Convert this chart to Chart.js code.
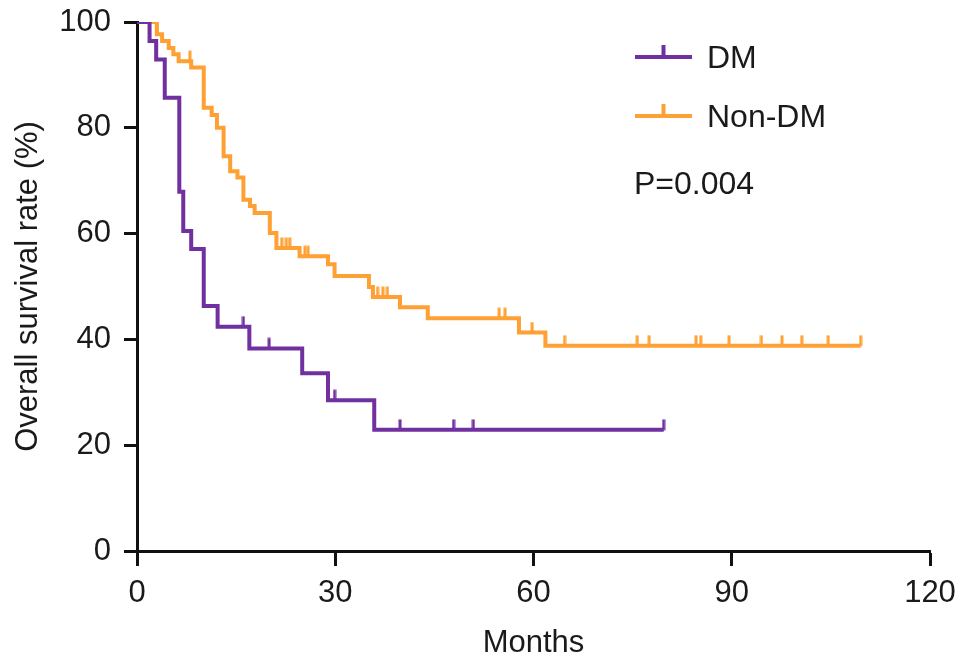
<!DOCTYPE html>
<html>
<head>
<meta charset="utf-8">
<title>Overall survival</title>
<script src="https://cdn.jsdelivr.net/npm/chart.js@4/dist/chart.umd.min.js"></script>
<style>
  html, body { margin: 0; padding: 0; background: #fff; }
  #wrap { width: 969px; height: 669px; }
</style>
</head>
<body>
<div id="wrap"><canvas id="kmChart" width="969" height="669"></canvas></div>
<script>
// Kaplan-Meier steps (months, % surviving)
const dmTimes = [0, 1.9, 2.9, 4.2, 6.4, 7.0, 8.2, 10.1, 12.2, 17.0, 25.0, 28.9, 35.9, 79.7];
const dmSurv  = [100, 96.4, 92.9, 85.7, 67.9, 60.5, 57.1, 46.3, 42.4, 38.3, 33.6, 28.5, 22.9, 22.9];
const dmCensored = [16.1, 20.0, 29.9, 39.8, 47.9, 50.9, 79.7];

const nonDmTimes = [0, 3.0, 3.8, 4.8, 5.5, 6.3, 8.2, 10.1, 11.3, 12.1, 13.1, 14.1, 15.2, 16.1, 17.1, 17.8,
                    20.1, 21.1, 24.6, 28.9, 29.9, 35.1, 35.7, 39.8, 44.0, 57.8, 61.8, 109.5];
const nonDmSurv  = [100, 97.7, 96.4, 95.1, 93.9, 92.6, 91.4, 83.8, 82.4, 80.0, 74.6, 71.8, 70.6, 66.4, 65.2, 63.9,
                    60.1, 57.3, 55.7, 54.2, 52.0, 49.9, 48.0, 46.1, 44.0, 41.3, 38.8, 38.8];
const nonDmCensored = [3.0, 8.0, 21.9, 22.6, 23.1, 25.4, 25.9, 36.4, 37.2, 37.9, 54.8, 55.7, 59.8,
                       64.7, 75.7, 77.5, 84.6, 85.3, 89.6, 94.5, 97.6, 100.6, 104.6, 109.5];

const xTicks = [0, 30, 60, 90, 120];
const yTicks = [0, 20, 40, 60, 80, 100];

const PURPLE = '#7030a0';
const ORANGE = '#ffa035';

// survival level at time t (step function)
function survAt(times, surv, t) {
  let s = surv[0];
  for (let i = 0; i < times.length; i++) {
    if (times[i] <= t) s = surv[i];
  }
  return s;
}

// small vertical mark sitting on top of the curve
function censorMark(color) {
  const c = document.createElement('canvas');
  c.width = 4; c.height = 22;
  const g = c.getContext('2d');
  g.strokeStyle = color;
  g.lineWidth = 3;
  g.beginPath();
  g.moveTo(2, 0.5);
  g.lineTo(2, 11.5);
  g.stroke();
  return c;
}

const stepData = (times, surv) => times.map((t, i) => ({x: t, y: surv[i]}));
const censorData = (cens, times, surv) => cens.map(t => ({x: t, y: survAt(times, surv, t)}));

// legend + p value, drawn at the top right like the original
const keyPlugin = {
  id: 'kmKey',
  afterDraw(chart) {
    const ctx = chart.ctx;
    const rows = [
      { label: 'DM', color: PURPLE, y: 57 },
      { label: 'Non-DM', color: ORANGE, y: 116 }
    ];
    ctx.save();
    rows.forEach(r => {
      ctx.strokeStyle = r.color;
      ctx.lineWidth = 4;
      ctx.beginPath();
      ctx.moveTo(635, r.y);
      ctx.lineTo(692, r.y);
      ctx.moveTo(663.5, r.y);
      ctx.lineTo(663.5, r.y - 12);
      ctx.stroke();
      ctx.fillStyle = '#1a1a1a';
      ctx.font = '32px "Liberation Sans", Arial, sans-serif';
      ctx.textBaseline = 'middle';
      ctx.textAlign = 'left';
      ctx.fillText(r.label, 707, r.y + 2);
    });
    ctx.fillText('P=0.004', 634, 185);
    ctx.restore();
  }
};

const fontFam = '"Liberation Sans", Arial, sans-serif';

new Chart(document.getElementById('kmChart'), {
  type: 'line',
  data: {
    datasets: [
      { label: 'DM', data: stepData(dmTimes, dmSurv), stepped: true,
        borderColor: PURPLE, borderWidth: 4, pointRadius: 0, fill: false },
      { label: 'Non-DM', data: stepData(nonDmTimes, nonDmSurv), stepped: true,
        borderColor: ORANGE, borderWidth: 4, pointRadius: 0, fill: false },
      { label: 'DM censored', data: censorData(dmCensored, dmTimes, dmSurv), showLine: false,
        pointStyle: censorMark(PURPLE), pointRadius: 3 },
      { label: 'Non-DM censored', data: censorData(nonDmCensored, nonDmTimes, nonDmSurv), showLine: false,
        pointStyle: censorMark(ORANGE), pointRadius: 3 }
    ]
  },
  options: {
    responsive: false,
    animation: false,
    layout: { padding: { left: 0, top: 22, right: 39, bottom: 0 } },
    plugins: { legend: { display: false }, tooltip: { enabled: false } },
    scales: {
      x: {
        type: 'linear', min: 0, max: 120,
        afterBuildTicks: s => { s.ticks = xTicks.map(v => ({value: v})); },
        afterFit: s => { s.height = 118; s.paddingLeft = 0; s.paddingRight = 0; },
        grid: { drawOnChartArea: false, drawTicks: true, tickLength: 15, tickWidth: 3, tickColor: '#111' },
        border: { display: true, width: 3, color: '#111' },
        ticks: { color: '#1a1a1a', font: { family: fontFam, size: 31 }, padding: 9, maxRotation: 0 },
        title: { display: true, text: 'Months', color: '#1a1a1a', font: { family: fontFam, size: 31 }, padding: { top: 0, bottom: 7 } }
      },
      y: {
        type: 'linear', min: 0, max: 100,
        afterBuildTicks: s => { s.ticks = yTicks.map(v => ({value: v})); },
        afterFit: s => { s.width = 137; s.paddingTop = 0; s.paddingBottom = 0; },
        grid: { drawOnChartArea: false, drawTicks: true, tickLength: 13, tickWidth: 3, tickColor: '#111' },
        border: { display: true, width: 3, color: '#111' },
        ticks: { color: '#1a1a1a', font: { family: fontFam, size: 31 }, padding: 13 },
        title: { display: true, text: 'Overall survival rate (%)', color: '#1a1a1a', font: { family: fontFam, size: 31 }, padding: { top: 10, bottom: 0 } }
      }
    }
  },
  plugins: [keyPlugin]
});
</script>
</body>
</html>
